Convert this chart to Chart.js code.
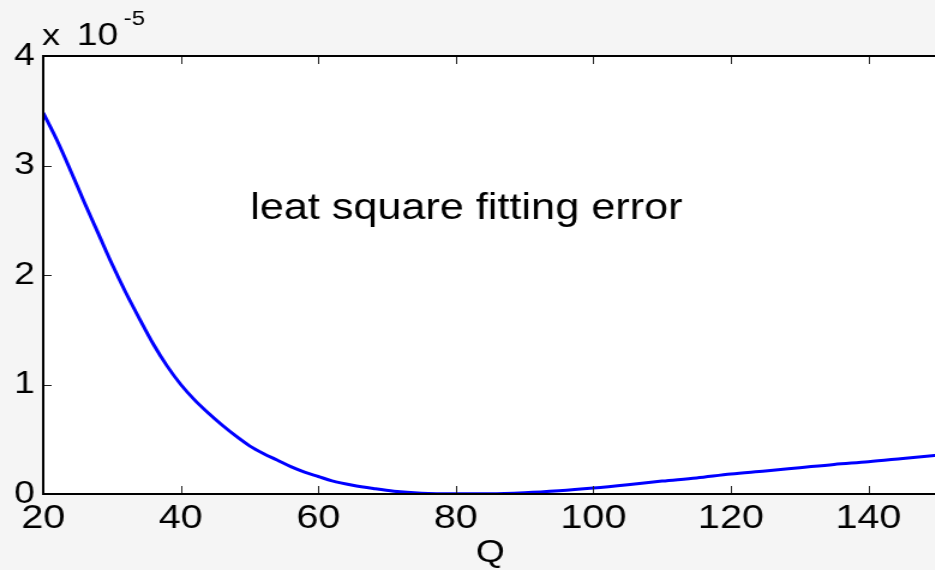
<!DOCTYPE html>
<html>
<head>
<meta charset="utf-8">
<script src="https://cdn.jsdelivr.net/npm/chart.js@4/dist/chart.umd.min.js"></script>
<style>
  html, body { margin: 0; padding: 0; overflow: hidden; background: #f5f5f5; }
  /* the original figure was stretched sideways when pasted into the slide */
  #chart { display: block; transform: scaleX(1.2); transform-origin: 0 0; }
</style>
</head>
<body>
<canvas id="chart" width="783" height="570"></canvas>
<script>
// ----- data (y in units of 1e-5) -----
const qValues = [20, 22, 24, 26, 28, 30, 32, 34, 36, 38, 40, 42, 44, 46, 48, 50, 52, 54, 56, 58,
                 60, 62, 65, 68, 71, 75, 80, 85, 90, 95, 100, 105, 110, 115, 120, 125, 130, 135,
                 140, 145, 150];
const errValues = [3.48, 3.23, 2.95, 2.66, 2.38, 2.10, 1.84, 1.60, 1.37, 1.17, 1.00, 0.86, 0.74,
                   0.63, 0.53, 0.44, 0.37, 0.31, 0.25, 0.20, 0.16, 0.12, 0.08, 0.05, 0.025, 0.008,
                   0.003, 0.003, 0.012, 0.03, 0.055, 0.085, 0.118, 0.147, 0.183, 0.21, 0.24, 0.27,
                   0.295, 0.325, 0.355];
const xTicks = [20, 40, 60, 80, 100, 120, 140];
const yTicks = [0, 1, 2, 3, 4];
const annotation = { text: "leat square fitting error", q: 50.1, y: 2.51 };
const exponent = { base: "10", power: "-5" };

const FONT = "Arial, 'Liberation Sans', Helvetica, sans-serif";
const LINE = "#0000ff";

// matlab-ish frame, inward ticks, extra text
const matlabAxes = {
  id: "matlabAxes",
  beforeDraw(chart) {
    const { ctx, chartArea: a } = chart;
    ctx.save();
    ctx.fillStyle = "#ffffff";
    ctx.fillRect(a.left, a.top, a.right - a.left, a.bottom - a.top);
    ctx.restore();
  },
  afterDraw(chart) {
    const { ctx, chartArea: a, scales } = chart;
    ctx.save();
    ctx.strokeStyle = "#222";
    ctx.lineWidth = 1;
    xTicks.forEach(v => {
      const x = Math.round(scales.x.getPixelForValue(v)) + 0.5;
      ctx.beginPath();
      ctx.moveTo(x, a.bottom); ctx.lineTo(x, a.bottom - 8);
      ctx.moveTo(x, a.top); ctx.lineTo(x, a.top + 8);
      ctx.stroke();
    });
    yTicks.forEach(v => {
      const y = Math.round(scales.y.getPixelForValue(v)) + 0.5;
      ctx.beginPath();
      ctx.moveTo(a.left, y); ctx.lineTo(a.left + 7, y);
      ctx.stroke();
    });
    ctx.strokeStyle = "#000";
    ctx.lineWidth = 2;
    ctx.strokeRect(a.left, a.top, a.right - a.left, a.bottom - a.top);

    ctx.fillStyle = "#000";
    ctx.textBaseline = "alphabetic";
    ctx.textAlign = "left";
    ctx.font = "36px " + FONT;
    ctx.fillText(annotation.text, scales.x.getPixelForValue(annotation.q),
                 scales.y.getPixelForValue(annotation.y));

    // "x 10^-5" above the y axis
    ctx.font = "30px " + FONT;
    ctx.fillText("x", a.left - 1, a.top - 11);
    ctx.font = "31px " + FONT;
    ctx.fillText(exponent.base, a.left + 28, a.top - 11);
    ctx.font = "20px " + FONT;
    ctx.fillText(exponent.power, a.left + 67, a.top - 31);
    ctx.restore();
  },
};

new Chart(document.getElementById("chart"), {
  type: "line",
  data: {
    labels: qValues,
    datasets: [{
      data: qValues.map((q, i) => ({ x: q, y: errValues[i] })),
      borderColor: LINE,
      borderWidth: 3,
      pointRadius: 0,
      cubicInterpolationMode: "monotone",
      fill: false,
    }],
  },
  options: {
    responsive: false,
    animation: false,
    devicePixelRatio: 1,
    layout: { padding: { top: 56, right: 2, left: 0, bottom: 0 } },
    plugins: { legend: { display: false }, tooltip: { enabled: false } },
    scales: {
      x: {
        type: "linear",
        min: 20, max: 150,
        afterBuildTicks: (s) => { s.ticks = xTicks.map(v => ({ value: v })); },
        afterFit: (s) => { s.height = 76; },
        grid: { display: false, drawTicks: false },
        border: { display: false },
        ticks: { color: "#000", font: { size: 33, family: FONT }, padding: 5, maxRotation: 0,
                 autoSkip: false },
        title: { display: true, text: "Q", color: "#000", font: { size: 31, family: FONT },
                 padding: { top: 0, bottom: -2 } },
      },
      y: {
        min: 0, max: 4,
        afterBuildTicks: (s) => { s.ticks = yTicks.map(v => ({ value: v })); },
        afterFit: (s) => { s.width = 36; },
        grid: { display: false, drawTicks: false },
        border: { display: false },
        ticks: { color: "#000", font: { size: 31, family: FONT }, padding: 7 },
      },
    },
  },
  plugins: [matlabAxes],
});
</script>
</body>
</html>
